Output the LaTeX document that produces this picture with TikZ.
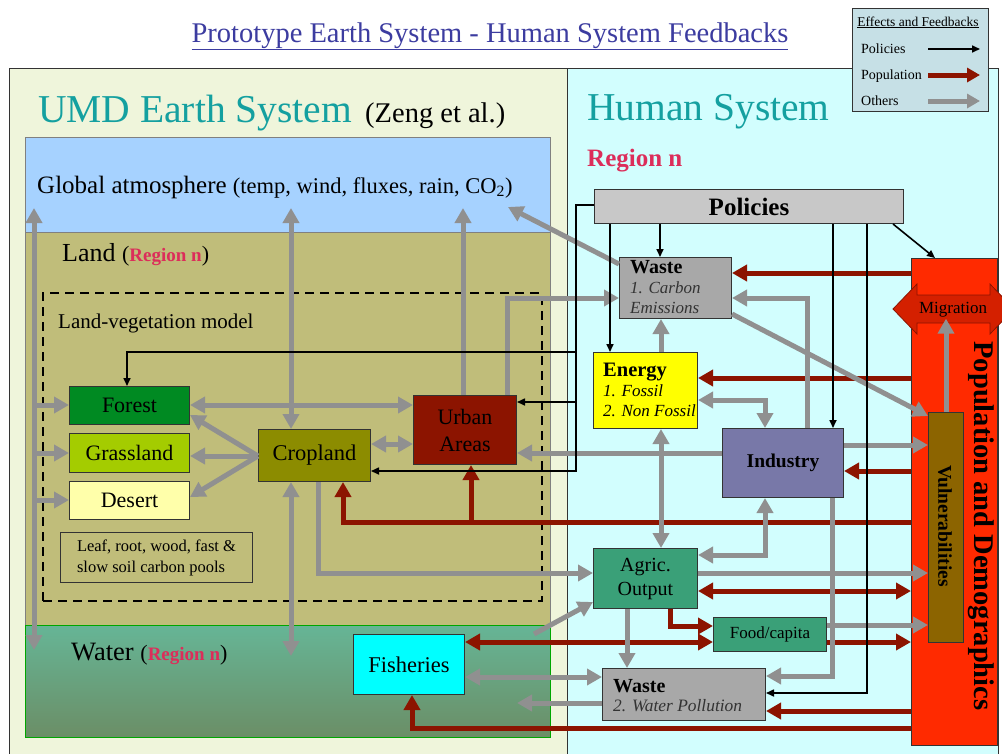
\documentclass[tikz,border=0pt]{standalone}
\usepackage{fontspec}
\setmainfont{Liberation Serif}
\usetikzlibrary{arrows.meta,calc}
\definecolor{cpanelL}{HTML}{EFF5DB}
\definecolor{cpanelR}{HTML}{D2FEFE}
\definecolor{catm}{HTML}{A6D2FF}
\definecolor{cland}{HTML}{C0BD7A}
\definecolor{cwatT}{HTML}{66B596}
\definecolor{cwatB}{HTML}{6B8E66}
\definecolor{cforest}{HTML}{008A22}
\definecolor{cgrass}{HTML}{A4CC00}
\definecolor{cdesert}{HTML}{FFFFAA}
\definecolor{ccrop}{HTML}{8C8C00}
\definecolor{curban}{HTML}{8C1400}
\definecolor{cfish}{HTML}{00FFFF}
\definecolor{cpol}{HTML}{C8C8C8}
\definecolor{cwaste}{HTML}{A8A8A8}
\definecolor{cenergy}{HTML}{FFFF00}
\definecolor{cind}{HTML}{7878A8}
\definecolor{cagric}{HTML}{3AA078}
\definecolor{cpop}{HTML}{FF2A00}
\definecolor{cmig}{HTML}{D42000}
\definecolor{cvul}{HTML}{8C6400}
\definecolor{cgray}{HTML}{909090}
\definecolor{cred}{HTML}{8C1400}
\definecolor{ctitle}{HTML}{3C3CA0}
\definecolor{cteal}{HTML}{14A0A0}
\definecolor{cregion}{HTML}{DC2D5A}
\definecolor{clegend}{HTML}{C6E0E6}
\definecolor{cbord}{HTML}{333333}
\newcommand\fz[2]{\fontsize{#1}{#2}\selectfont}
\tikzset{
  bx/.style={draw=cbord, line width=1pt, inner sep=0pt, anchor=north west, align=center},
  region/.style={draw=gray, line width=0.8pt, inner sep=0pt, anchor=north west},
  lbl/.style={anchor=base west, inner sep=0pt},
  garr/.style={draw=cgray, line width=5pt, -{Triangle[length=15pt,width=16pt]}},
  garr2/.style={draw=cgray, line width=5pt, {Triangle[length=15pt,width=16pt]}-{Triangle[length=15pt,width=16pt]}},
  rarr/.style={draw=cred, line width=5pt, -{Triangle[length=15pt,width=16pt]}},
  rarr2/.style={draw=cred, line width=5pt, {Triangle[length=15pt,width=16pt]}-{Triangle[length=15pt,width=16pt]}},
  barr/.style={draw=black, line width=1.6pt, -{Triangle[length=8pt,width=7pt]}},
}
\begin{document}
\begin{tikzpicture}[x=1pt,y=-1pt]
\useasboundingbox (0,0) rectangle (1002,753);
\fill[white] (0,0) rectangle (1002,753);
% panels
\filldraw[fill=cpanelL, draw=cbord, line width=1pt] (9,68) rectangle (567,760);
\filldraw[fill=cpanelR, draw=cbord, line width=1pt] (567,68) rectangle (998,760);
% title
\node[anchor=base, inner sep=0pt, text=ctitle, font=\fz{28.5}{34}] (title) at (490,42) {\underline{Prototype Earth System - Human System Feedbacks}};
\node[lbl, text=cteal, font=\fz{39.5}{44}] (umd) at (38,122) {UMD Earth System};
\node[lbl, font=\fz{28.5}{34}] (zeng) at (365,122) {(Zeng et al.)};
\node[lbl, text=cteal, font=\fz{39.5}{44}] (hum) at (587,120) {Human System};
\node[lbl, text=cregion, font=\bfseries\fz{25}{30}] (regR) at (587,166) {Region n};
% earth regions
\node[region, fill=catm, minimum width=525pt, minimum height=95pt] (atm) at (25,137) {};
\node[region, fill=cland, minimum width=525pt, minimum height=393pt] (land) at (25,232) {};
\node[region, top color=cwatT, bottom color=cwatB, draw=green!65!black, minimum width=525pt, minimum height=112pt] (water) at (25,625) {};
\node[lbl, font=\fz{25}{30}] (atmtxt) at (37,193) {Global atmosphere {\fz{22.5}{27}(temp, wind, fluxes, rain, CO\textsubscript{2})}};
\node[lbl, font=\fz{26}{30}] (landtxt) at (62,261) {Land {\fz{22}{26}(}{\fz{19}{22}\bfseries\color{cregion}Region n}{\fz{22}{26})}};
\node[draw=black, line width=2pt, dash pattern=on 9pt off 6pt, inner sep=0pt, anchor=north west, minimum width=499pt, minimum height=308pt] (lvm) at (42,292) {};
\node[lbl, font=\fz{21}{25}] (lvmtxt) at (58,328) {Land-vegetation model};
\node[lbl, font=\fz{26.5}{30}] (wattxt) at (71,660) {Water {\fz{22}{26}(}{\fz{19}{22}\bfseries\color{cregion}Region n}{\fz{22}{26})}};
% earth boxes
\node[bx, fill=cforest, minimum width=120pt, minimum height=38pt, font=\fz{22}{26}] (forest) at (69,386) {Forest};
\node[bx, fill=cgrass, minimum width=120pt, minimum height=39pt, font=\fz{22}{26}] (grass) at (69,433) {Grassland};
\node[bx, fill=cdesert, minimum width=120pt, minimum height=38pt, font=\fz{22}{26}] (desert) at (69,481) {Desert};
\node[bx, minimum width=192pt, minimum height=50pt, align=left, font=\fz{16.5}{21}] (leaf) at (60,532) {Leaf, root, wood, fast \&\\slow soil carbon pools};
\node[bx, fill=ccrop, minimum width=112pt, minimum height=52pt, font=\fz{22.5}{26}] (crop) at (258,429) {Cropland};
\node[bx, fill=curban, minimum width=103pt, minimum height=69pt, font=\fz{22}{27}] (urban) at (413,395) {Urban\\Areas};
\node[bx, fill=cfish, minimum width=111pt, minimum height=60pt, font=\fz{22.5}{26}] (fish) at (353,634) {Fisheries};
% human boxes
\node[bx, fill=cpol, minimum width=309pt, minimum height=34pt, font=\bfseries\fz{25}{30}] (pol) at (594,189) {Policies};
\node[bx, fill=cwaste, minimum width=112pt, minimum height=61pt] (w1) at (619,257) {};
\node[lbl, font=\bfseries\fz{20}{24}] (w1a) at (630,273) {Waste};
\node[lbl, font=\itshape\fz{17}{20}, text=black!80] (w1b) at (630,293) {1. Carbon};
\node[lbl, font=\itshape\fz{17}{20}, text=black!80] (w1c) at (630,313) {Emissions};
\node[bx, fill=cenergy, minimum width=104pt, minimum height=76pt] (energy) at (593,352) {};
\node[lbl, font=\bfseries\fz{20.5}{24}] (ena) at (603,376) {Energy};
\node[lbl, font=\itshape\fz{17}{20}] (enb) at (603,396) {1. Fossil};
\node[lbl, font=\itshape\fz{17}{20}] (enc) at (603,416) {2. Non Fossil};
\node[bx, fill=cind, minimum width=121pt, minimum height=69pt, font=\bfseries\fz{19.5}{24}] (ind) at (722,428) {Industry};
\node[bx, fill=cagric, minimum width=104pt, minimum height=60pt, font=\fz{20}{24}] (agric) at (593,548) {Agric.\\Output};
\node[bx, fill=cagric, minimum width=113pt, minimum height=34pt, font=\fz{17}{20}] (food) at (713,617) {Food/capita};
\node[bx, fill=cwaste, minimum width=163pt, minimum height=52pt] (w2) at (602,668) {};
\node[lbl, font=\bfseries\fz{20}{24}] (w2a) at (613,692) {Waste};
\node[lbl, font=\itshape\fz{17.4}{20}, text=black!80] (w2b) at (613,711) {2. Water Pollution};
\node[bx, fill=cpop, minimum width=86pt, minimum height=487pt] (pop) at (911,258) {};
\filldraw[fill=cmig, draw=cred, line width=0.8pt] (893,309) -- (917,284) -- (917,295) -- (990,295) -- (990,284) -- (1014,309) -- (990,334) -- (990,323) -- (917,323) -- (917,334) -- cycle;
\node[font=\fz{17}{20}, inner sep=1pt] (mig) at (953,310) {Migration};
\node[bx, fill=cvul, minimum width=35pt, minimum height=230pt] (vul) at (928,412) {};
\node[rotate=-90, font=\bfseries\fz{19.5}{24}] (vultxt) at (945,526) {Vulnerabilities};
\node[rotate=-90, font=\bfseries\fz{28.5}{34}] (poptxt) at (981,526) {Population and Demographics};
% free-end coordinates
\coordinate (atmA) at (34,208);
\coordinate (watA) at (34,650);
\coordinate (atmB) at (291,208);
\coordinate (watB) at (291,656);
\coordinate (atmC) at (463,208);
\coordinate (co2) at (508,207);
\coordinate (watC) at (534,634);
\coordinate (watD) at (517,703);
\coordinate (cw) at (258,456);
\coordinate (jU) at (471,522);
\coordinate (pj) at (576,471);
% red connectors
\draw[rarr] (pop.west |- 0,273) -- (w1.east |- 0,273);
\draw[rarr] (pop.west |- 0,378) -- (energy.east |- 0,378);
\draw[rarr] (pop.west |- 0,471) -- (ind.east |- 0,471);
\draw[rarr] (pop.west |- 0,522) -| (crop.south -| 343,0);
\draw[rarr] (jU) -- (urban.south -| jU);
\draw[rarr2] (agric.east |- 0,591) -- (pop.west |- 0,591);
\draw[rarr] (agric.south -| 670,0) |- (food.west |- 0,626);
\draw[rarr2] (fish.east |- 0,642) -- (food.west |- 0,642);
\draw[rarr] (food.east |- 0,642) -- (pop.west |- 0,642);
\draw[rarr] (pop.west |- 0,711) -- (w2.east |- 0,711);
\draw[rarr] (pop.west |- 0,728) -| (fish.south -| 412,0);
% gray connectors
\draw[garr2] (atmA) -- (watA);
\draw[garr] (34,405) -- (forest.west |- 0,405);
\draw[garr] (34,453) -- (grass.west |- 0,453);
\draw[garr] (34,500) -- (desert.west |- 0,500);
\draw[garr2] (atmB) -- (crop.north -| atmB);
\draw[garr2] (crop.south -| watB) -- (watB);
\draw[garr] (urban.north -| atmC) -- (atmC);
\draw[garr] (urban.north -| 507,0) |- (w1.west |- 0,298);
\draw[garr2] (forest.east |- 0,405) -- (urban.west |- 0,405);
\draw[garr] (cw) -- (forest.east |- 0,415);
\draw[garr] (cw) -- (grass.east |- cw);
\draw[garr] (cw) -- (desert.east |- 0,497);
\draw[garr2] (crop.east |- 0,444) -- (urban.west |- 0,444);
\draw[garr] (crop.south -| 318,0) |- (agric.west |- 0,573);
\draw[garr] (watC) -- (agric.west |- 0,602);
\draw[garr] (ind.west |- 0,453) -- (urban.east |- 0,453);
\draw[garr2] (energy.south -| 661,0) -- (agric.north -| 661,0);
\draw[garr] (energy.north -| 661,0) -- (w1.south -| 661,0);
\draw[garr2] (energy.east |- 0,400) -| (ind.north -| 765,0);
\draw[garr] (ind.north -| 807,0) |- (w1.east |- 0,298);
\draw[garr] (w1.east |- 0,314) -- (vul.west |- 0,416);
\draw[garr] (w1.west |- 0,264) -- (co2);
\draw[garr] (ind.east |- 0,445) -- (vul.west |- 0,445);
\draw[garr2] (ind.south -| 765,0) |- (agric.east |- 0,555);
\draw[garr] (ind.south -| 832,0) |- (w2.east |- 0,676);
\draw[garr] (agric.south -| 627,0) -- (w2.north -| 627,0);
\draw[garr] (agric.east |- 0,573) -- (vul.west |- 0,573);
\draw[garr] (food.east |- 0,625) -- (vul.west |- 0,625);
\draw[garr] (vul.north) -- (vul.north |- mig.south);
\draw[garr2] (fish.east |- 0,677) -- (w2.west |- 0,677);
\draw[garr] (w2.west |- watD) -- (watD);
% black connectors
\draw[barr] (pol.south -| 660,0) -- (w1.north -| 660,0);
\draw[barr] (pol.south -| 610,0) -- (energy.north -| 610,0);
\draw[barr] (pol.west |- 0,205) -| (pj) -- (crop.east |- pj);
\draw[barr] (pj |- 0,352) -| (forest.north -| 127,0);
\draw[barr] (pj |- 0,402) -- (urban.east |- 0,402);
\draw[barr] (pol.south -| 833,0) -- (ind.north -| 833,0);
\draw[barr] (pol.south -| 867,0) |- (w2.east |- 0,693);
\draw[barr] (pol.south -| 893,0) -- (pop.north -| 935,0);
% legend
\node[bx, fill=clegend, minimum width=136pt, minimum height=103pt] (leg) at (852,8) {};
\node[anchor=base, inner sep=0pt, font=\fz{13.5}{16}] (legt) at (918,26) {\underline{Effects and Feedbacks}};
\node[lbl, font=\fz{14}{17}] (lp) at (861,53) {Policies};
\node[lbl, font=\fz{14}{17}] (lpo) at (861,79) {Population};
\node[lbl, font=\fz{14}{17}] (lo) at (861,105) {Others};
\coordinate (la1) at (928,49); \coordinate (lb1) at (980,49);
\coordinate (la2) at (928,75); \coordinate (lb2) at (980,75);
\coordinate (la3) at (928,101); \coordinate (lb3) at (980,101);
\draw[barr] (la1) -- (lb1);
\draw[draw=cred, line width=5pt, -{Triangle[length=13pt,width=14pt]}] (la2) -- (lb2);
\draw[draw=cgray, line width=5pt, -{Triangle[length=13pt,width=14pt]}] (la3) -- (lb3);
\end{tikzpicture}
\end{document}
